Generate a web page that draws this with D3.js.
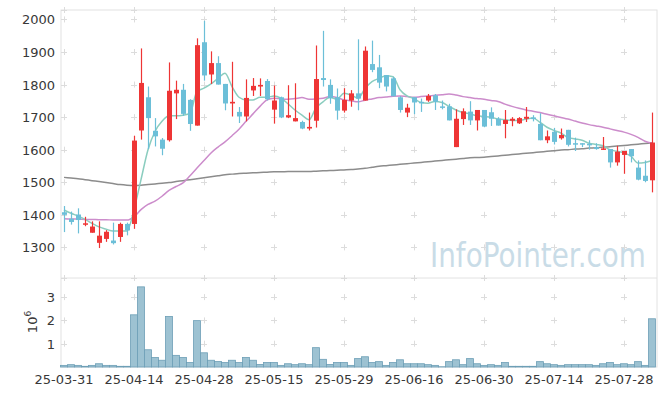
<!DOCTYPE html>
<html>
<head>
<meta charset="utf-8">
<script src="https://cdn.jsdelivr.net/npm/d3@7"></script>
<style>
  body { margin: 0; background: #fff; }
  text { font-family: "DejaVu Sans", sans-serif; }
</style>
</head>
<body>
<svg id="chart" width="665" height="396"></svg>
<script>
// trading days (yy-mm-dd)
var dates = [
  "25-03-31","25-04-01","25-04-02","25-04-03","25-04-04","25-04-07","25-04-08","25-04-09","25-04-10","25-04-11",
  "25-04-14","25-04-15","25-04-16","25-04-17","25-04-18","25-04-21","25-04-22","25-04-23","25-04-24","25-04-25",
  "25-04-28","25-04-29","25-04-30","25-05-02","25-05-07","25-05-08","25-05-09","25-05-12","25-05-13","25-05-14",
  "25-05-15","25-05-16","25-05-19","25-05-20","25-05-21","25-05-22","25-05-23","25-05-26","25-05-27","25-05-28",
  "25-05-29","25-05-30","25-06-02","25-06-04","25-06-05","25-06-09","25-06-10","25-06-11","25-06-12","25-06-13",
  "25-06-16","25-06-17","25-06-18","25-06-19","25-06-20","25-06-23","25-06-24","25-06-25","25-06-26","25-06-27",
  "25-06-30","25-07-01","25-07-02","25-07-03","25-07-04","25-07-07","25-07-08","25-07-09","25-07-10","25-07-11",
  "25-07-14","25-07-15","25-07-16","25-07-17","25-07-18","25-07-21","25-07-22","25-07-23","25-07-24","25-07-25",
  "25-07-28","25-07-29","25-07-30","25-07-31","25-08-01"
];

var open = [
  1408,1388,1401,1370,1345,1314,1326,1321,1332,1372,
  1372,1659,1761,1658,1631,1629,1773,1784,1753,1674,
  1930,1831,1866,1802,1742,1716,1702,1782,1794,1811,
  1723,1761,1699,1687,1685,1665,1689,1820,1799,1761,
  1720,1751,1773,1751,1863,1853,1829,1819,1761,1714,
  1761,1747,1751,1767,1733,1733,1608,1694,1717,1690,
  1722,1715,1695,1679,1689,1681,1695,1699,1679,1629,
  1655,1635,1661,1620,1620,1618,1608,1602,1602,1561,
  1584,1602,1545,1520,1506
];
var high = [
  1427,1410,1420,1394,1380,1380,1353,1376,1376,1376,
  1643,1911,1794,1697,1636,1868,1812,1802,1755,1942,
  1996,1902,1887,1802,1870,1731,1816,1820,1819,1817,
  1797,1763,1798,1804,1689,1714,1920,1965,1816,1788,
  1789,1783,1939,1917,1935,1891,1829,1824,1765,1741,
  1761,1757,1771,1771,1751,1741,1724,1727,1749,1722,
  1722,1730,1700,1722,1700,1700,1731,1706,1712,1659,
  1667,1665,1661,1637,1620,1629,1620,1639,1602,1612,
  1596,1602,1567,1567,1714
];
var low = [
  1347,1370,1343,1365,1345,1298,1317,1309,1317,1337,
  1357,1631,1602,1610,1583,1625,1694,1704,1658,1674,
  1812,1802,1800,1721,1702,1682,1687,1765,1765,1751,
  1680,1697,1697,1687,1663,1659,1668,1794,1741,1692,
  1714,1732,1721,1751,1838,1789,1779,1764,1714,1700,
  1709,1716,1747,1722,1724,1690,1608,1676,1676,1659,
  1669,1673,1674,1635,1672,1679,1685,1687,1629,1620,
  1616,1631,1610,1596,1608,1600,1600,1600,1545,1551,
  1526,1561,1506,1500,1469
];
var close = [
  1400,1378,1384,1374,1364,1336,1348,1313,1372,1352,
  1628,1805,1697,1641,1603,1781,1784,1710,1679,1921,
  1828,1866,1800,1742,1747,1702,1759,1796,1799,1755,
  1751,1699,1706,1697,1665,1670,1817,1814,1758,1720,
  1753,1773,1757,1904,1845,1806,1794,1764,1722,1729,
  1745,1743,1765,1747,1731,1690,1695,1718,1690,1722,
  1671,1695,1674,1691,1695,1697,1701,1694,1629,1641,
  1624,1645,1615,1618,1616,1614,1602,1604,1561,1594,
  1596,1580,1508,1504,1622
];
// volume, shares
var volume = [
  70000,100000,70000,30000,70000,140000,70000,70000,30000,30000,
  2240000,3440000,740000,410000,290000,2170000,500000,410000,190000,1990000,
  610000,290000,240000,190000,290000,190000,410000,290000,110000,190000,
  190000,70000,140000,100000,140000,100000,830000,330000,110000,190000,
  190000,70000,360000,440000,190000,230000,70000,190000,310000,140000,
  140000,140000,100000,70000,10000,230000,310000,100000,360000,140000,
  70000,100000,70000,190000,30000,30000,30000,30000,230000,140000,
  100000,70000,100000,100000,100000,100000,70000,140000,190000,100000,
  140000,100000,230000,70000,2070000
];

// moving averages as drawn (5, 20, 120 days)
var ma5 = [
  1415,1405,1396,1386,1374,1363,1356,1350,1350,1350,
  1416,1508,1600,1656,1687,1704,1704,1706,1712,1779,
  1789,1802,1819,1835,1794,1761,1753,1753,1761,1761,
  1765,1758,1741,1722,1706,1692,1728,1747,1761,1755,
  1773,1768,1758,1788,1809,1819,1827,1824,1784,1765,
  1757,1745,1743,1748,1745,1733,1722,1714,1710,1704,
  1702,1700,1694,1692,1690,1690,1694,1697,1684,1669,
  1659,1651,1637,1633,1629,1620,1616,1612,1600,1595,
  1590,1580,1559,1561,1567
];
var ma20 = [
  1388,1387,1387,1386,1386,1385,1385,1384,1384,1384,
  1394,1416,1432,1442,1457,1475,1487,1498,1520,1544,
  1567,1590,1608,1624,1643,1663,1687,1710,1733,1753,
  1758,1756,1755,1757,1760,1755,1756,1758,1763,1760,
  1753,1750,1747,1752,1756,1760,1762,1764,1765,1763,
  1761,1763,1765,1767,1769,1771,1768,1763,1760,1757,
  1755,1751,1748,1740,1733,1727,1722,1718,1714,1709,
  1704,1699,1694,1688,1682,1677,1673,1669,1664,1659,
  1654,1647,1638,1626,1620
];
var ma120 = [
  1515,1513,1511,1508,1505,1502,1499,1496,1493,1491,
  1490,1491,1493,1495,1497,1499,1502,1505,1508,1511,
  1514,1517,1520,1523,1525,1527,1528,1529,1530,1531,
  1532,1532,1533,1533,1533,1533,1534,1535,1536,1537,
  1538,1539,1541,1543,1546,1549,1551,1553,1555,1557,
  1559,1561,1563,1565,1567,1569,1571,1573,1575,1576,
  1577,1579,1581,1583,1585,1587,1589,1591,1593,1595,
  1597,1599,1600,1602,1603,1605,1606,1608,1609,1611,
  1613,1615,1617,1619,1621
];

var priceTicks = [1300,1400,1500,1600,1700,1800,1900,2000];
var volTicks = [1,2,3];
var dateTicks = ["25-03-31","25-04-14","25-04-28","25-05-15","25-05-29","25-06-16","25-06-30","25-07-14","25-07-28"];

var upColor = "#ee3535";
var downColor = "#6cbfd8";

var svg = d3.select("#chart");
var left = 61, right = 657;
var priceTop = 10, priceBottom = 278, volBottom = 367;

var x = d3.scaleBand().domain(dates).range([60.5, 655.5]).padding(0);
var xc = function(d) { return x(d) + x.bandwidth() / 2; };
var y = d3.scaleLinear().domain([1206, 2029]).range([priceBottom, priceTop]);
var yv = d3.scaleLinear().domain([0, 3.82e6]).range([volBottom, priceBottom]);

// frame
svg.append("rect").attr("x", left).attr("y", priceTop)
  .attr("width", right - left).attr("height", volBottom - priceTop)
  .attr("fill", "#fff").attr("stroke", "#e2e2e2");
svg.append("line").attr("x1", left).attr("x2", right)
  .attr("y1", priceBottom).attr("y2", priceBottom).attr("stroke", "#e2e2e2");

// little "+" grid marks
var gridY = priceTicks.map(function(t) { return y(t); })
  .concat(volTicks.map(function(t) { return yv(t * 1e6); }))
  .concat([priceTop, priceBottom]);
var marks = [];
dateTicks.forEach(function(d) {
  gridY.forEach(function(gy) { marks.push([xc(d), gy]); });
});
var grid = svg.append("g").attr("class", "grid")
  .attr("stroke", "#dcdcdc").attr("stroke-width", 1);
grid.selectAll(".h").data(marks).enter().append("line")
  .attr("x1", function(d) { return d[0] - 3; }).attr("x2", function(d) { return d[0] + 3; })
  .attr("y1", function(d) { return Math.round(d[1]) + 0.5; }).attr("y2", function(d) { return Math.round(d[1]) + 0.5; });
grid.selectAll(".v").data(marks).enter().append("line")
  .attr("x1", function(d) { return Math.round(d[0]) + 0.5; }).attr("x2", function(d) { return Math.round(d[0]) + 0.5; })
  .attr("y1", function(d) { return d[1] - 3; }).attr("y2", function(d) { return d[1] + 3; });

// watermark, squeezed to the width it has in the picture
var wm = svg.append("text")
  .attr("font-size", 33)
  .attr("fill", "#c9dce7")
  .text("InfoPointer.com");
var wmW = wm.node().getComputedTextLength();
wm.attr("transform", "translate(430,267) scale(" + (216 / wmW) + ",1)");

// moving averages
var lineOf = function(vals) {
  return d3.line()
    .x(function(d, i) { return xc(dates[i]); })
    .y(function(d) { return y(d); })
    .curve(d3.curveMonotoneX)(vals);
};
svg.append("path").attr("d", lineOf(ma120)).attr("fill", "none")
  .attr("stroke", "#8c8c8c").attr("stroke-width", 1.5);
svg.append("path").attr("d", lineOf(ma20)).attr("fill", "none")
  .attr("stroke", "#cc8ccb").attr("stroke-width", 1.5);
svg.append("path").attr("d", lineOf(ma5)).attr("fill", "none")
  .attr("stroke", "#8bcdbf").attr("stroke-width", 1.5);

// candles
var candles = svg.append("g").attr("class", "candles")
  .selectAll("g").data(dates).enter().append("g")
  .attr("fill", function(d, i) { return close[i] >= open[i] ? upColor : downColor; })
  .attr("stroke", function(d, i) { return close[i] >= open[i] ? upColor : downColor; });
candles.append("line")
  .attr("x1", function(d) { return Math.round(xc(d)) + 0.5; })
  .attr("x2", function(d) { return Math.round(xc(d)) + 0.5; })
  .attr("y1", function(d, i) { return y(high[i]); })
  .attr("y2", function(d, i) { return y(low[i]); })
  .attr("stroke-width", 1.2);
candles.append("rect")
  .attr("x", function(d) { return Math.round(xc(d)) - 2; })
  .attr("width", 5)
  .attr("y", function(d, i) { return y(Math.max(open[i], close[i])); })
  .attr("height", function(d, i) { return Math.max(1.5, Math.abs(y(open[i]) - y(close[i]))); })
  .attr("stroke", "none");

// volume
svg.append("g").attr("class", "vol").selectAll("rect")
  .data(dates).enter().append("rect")
  .attr("x", function(d) { return x(d); })
  .attr("width", x.bandwidth())
  .attr("y", function(d, i) { return yv(volume[i]); })
  .attr("height", function(d, i) { return volBottom - yv(volume[i]); })
  .attr("fill", "#9dc2d2")
  .attr("stroke", "#6d9fb6")
  .attr("stroke-width", 0.8);

// axes text
var axisColor = "#383838";
svg.append("g").selectAll("text").data(priceTicks).enter().append("text")
  .attr("x", 55).attr("y", function(d) { return y(d) + 5; })
  .attr("text-anchor", "end").attr("font-size", 13).attr("fill", axisColor)
  .text(function(d) { return d; });
svg.append("g").selectAll("text").data(volTicks).enter().append("text")
  .attr("x", 55).attr("y", function(d) { return yv(d * 1e6) + 5; })
  .attr("text-anchor", "end").attr("font-size", 13).attr("fill", axisColor)
  .text(function(d) { return d; });
svg.append("g").selectAll("text").data(dateTicks).enter().append("text")
  .attr("x", function(d) { return xc(d); }).attr("y", 384)
  .attr("text-anchor", "middle").attr("font-size", 13).attr("fill", axisColor)
  .text(function(d) { return d; });

var unit = svg.append("text")
  .attr("transform", "translate(37,322) rotate(-90)")
  .attr("text-anchor", "middle").attr("font-size", 13).attr("fill", axisColor);
unit.append("tspan").text("10");
unit.append("tspan").attr("dy", -6).attr("font-size", 9).text("6");
</script>
</body>
</html>
